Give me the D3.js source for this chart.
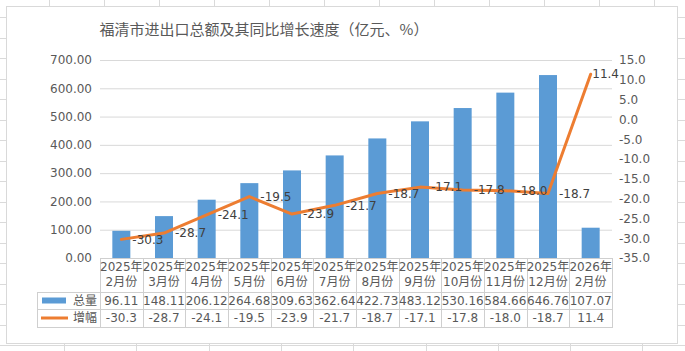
<!DOCTYPE html>
<html>
<head>
	<meta charset='utf-8'>
	<title>福清市进出口总额</title>
	<script src='https://cdn.jsdelivr.net/npm/d3@7'></script>
	<style>
		body { margin: 0; background: #fff; }
		text { font-family: 'DejaVu Sans', 'Noto Sans CJK SC', sans-serif; }
	</style>
</head>
<body>
	<svg width='685' height='351'></svg>
	<script>
		// 数据
		const categories = ['2025年2月份', '2025年3月份', '2025年4月份', '2025年5月份', '2025年6月份', '2025年7月份',
			'2025年8月份', '2025年9月份', '2025年10月份', '2025年11月份', '2025年12月份', '2026年2月份']
		const totals = [96.11, 148.11, 206.12, 264.68, 309.63, 362.64, 422.73, 483.12, 530.16, 584.66, 646.76, 107.07]
		const growth = [-30.3, -28.7, -24.1, -19.5, -23.9, -21.7, -18.7, -17.1, -17.8, -18.0, -18.7, 11.4]
		const leftTicks = [0, 100, 200, 300, 400, 500, 600, 700]
		const rightTicks = [-35, -30, -25, -20, -15, -10, -5, 0, 5, 10, 15]
		const seriesNames = ['总量', '增幅']

		const blue = '#5b9bd5', orange = '#ed7d31', txt = '#595959', gridC = '#d9d9d9', tableC = '#cfcfcf'
		const plot = { left: 100, right: 612, top: 60, bottom: 258 }

		const svg = d3.select('svg')

		// 背景表格线
		const bg = svg.append('g').attr('stroke', '#dadada').attr('stroke-width', 1)
		d3.range(-3.5, 351, 20.5).forEach(y => bg.append('line').attr('x1', 0).attr('x2', 685).attr('y1', Math.round(y) + 0.5).attr('y2', Math.round(y) + 0.5))
		d3.range(49, 685, 55).forEach(x => bg.append('line').attr('x1', x + 0.5).attr('x2', x + 0.5).attr('y1', 0).attr('y2', 10))
		d3.range(64, 685, 72.3).forEach(x => bg.append('line').attr('x1', Math.round(x) + 0.5).attr('x2', Math.round(x) + 0.5).attr('y1', 340).attr('y2', 351))

		// 图表区
		svg.append('rect').attr('x', 6.5).attr('y', 6.5).attr('width', 671).attr('height', 337)
			.attr('fill', '#fff').attr('stroke', gridC)

		// 标题
		svg.append('text').attr('x', 264).attr('y', 35).attr('text-anchor', 'middle')
			.attr('font-size', '15px').attr('fill', txt)
			.style('font-family', "'Noto Sans CJK SC', sans-serif")
			.text('福清市进出口总额及其同比增长速度（亿元、%）')

		const xScale = d3.scaleBand().domain(categories).range([plot.left, plot.right]).padding(0)
		const yLeft = d3.scaleLinear().domain([0, 700]).range([plot.bottom, plot.top])
		const yRight = d3.scaleLinear().domain([-35, 15]).range([plot.bottom, plot.top])

		// 左轴 + 网格线
		const gl = svg.append('g').attr('transform', `translate(${plot.left},0)`)
			.call(d3.axisLeft(yLeft).tickValues(leftTicks).tickSize(-(plot.right - plot.left)).tickPadding(8)
				.tickFormat(d => d.toFixed(2)))
		gl.select('.domain').remove()
		gl.selectAll('.tick line').attr('stroke', gridC)
		gl.selectAll('.tick text').attr('font-size', '12px').attr('fill', txt)

		// 右轴
		const gr = svg.append('g').attr('transform', `translate(${plot.right},0)`)
			.call(d3.axisRight(yRight).tickValues(rightTicks).tickSize(0).tickPadding(7)
				.tickFormat(d => d.toFixed(1)))
		gr.select('.domain').remove()
		gr.selectAll('.tick text').attr('font-size', '12px').attr('fill', txt)

		// 柱
		const barW = 18
		svg.append('g').selectAll('rect').data(totals).join('rect')
			.attr('x', (d, i) => xScale(categories[i]) + (xScale.bandwidth() - barW) / 2)
			.attr('y', d => yLeft(d))
			.attr('width', barW)
			.attr('height', d => plot.bottom - yLeft(d))
			.attr('fill', blue)

		// 折线
		const cx = i => xScale(categories[i]) + xScale.bandwidth() / 2
		const line = d3.line().x((d, i) => cx(i)).y(d => yRight(d))
		svg.append('path').datum(growth).attr('d', line)
			.attr('fill', 'none').attr('stroke', orange).attr('stroke-width', 3)
			.attr('stroke-linejoin', 'round').attr('stroke-linecap', 'round')

		// 数据标签（超出绘图区时往回收）
		svg.append('g').selectAll('text').data(growth).join('text')
			.attr('x', (d, i) => cx(i) + 11)
			.attr('y', d => yRight(d))
			.attr('dy', '0.35em')
			.attr('font-size', '12px').attr('fill', '#404040')
			.text(d => d.toFixed(1))
			.each(function () {
				const w = this.getComputedTextLength()
				const x = +this.getAttribute('x')
				if (x + w > plot.right + 7) this.setAttribute('x', plot.right + 7 - w)
			})

		// 数据表
		const rows = { top: 258, head: 292, r1: 309, r2: 327 }
		const legendLeft = 37
		const tg = svg.append('g')
		const hl = (x1, x2, y) => tg.append('line').attr('x1', x1).attr('x2', x2).attr('y1', y + 0.5).attr('y2', y + 0.5).attr('stroke', tableC)
		const vl = (x, y1, y2) => tg.append('line').attr('x1', x + 0.5).attr('x2', x + 0.5).attr('y1', y1).attr('y2', y2).attr('stroke', tableC)
		hl(plot.left, plot.right, rows.top)
		hl(legendLeft, plot.right, rows.head)
		hl(legendLeft, plot.right, rows.r1)
		hl(legendLeft, plot.right, rows.r2)
		vl(legendLeft, rows.head, rows.r2 + 1)
		categories.forEach(c => vl(Math.round(xScale(c)), rows.top, rows.r2 + 1))
		vl(plot.right, rows.top, rows.r2 + 1)

		const headText = tg.selectAll('text.head').data(categories).join('text')
			.attr('class', 'head')
			.attr('text-anchor', 'middle').attr('font-size', '12px').attr('fill', txt)
		headText.append('tspan').attr('x', (d, i) => cx(i)).attr('y', 271).text(d => d.split('年')[0] + '年')
		headText.append('tspan').attr('x', (d, i) => cx(i)).attr('y', 286).text(d => d.split('年')[1])

		tg.selectAll('text.v1').data(totals).join('text').attr('class', 'v1')
			.attr('x', (d, i) => cx(i)).attr('y', 305).attr('text-anchor', 'middle')
			.attr('font-size', '12px').attr('fill', txt).text(d => d.toFixed(2))
		tg.selectAll('text.v2').data(growth).join('text').attr('class', 'v2')
			.attr('x', (d, i) => cx(i)).attr('y', 322).attr('text-anchor', 'middle')
			.attr('font-size', '12px').attr('fill', txt).text(d => d.toFixed(1))

		// 图例
		tg.append('rect').attr('x', 42).attr('y', 297.5).attr('width', 24).attr('height', 6).attr('fill', blue)
		tg.append('line').attr('x1', 41).attr('x2', 68).attr('y1', 318).attr('y2', 318)
			.attr('stroke', orange).attr('stroke-width', 3)
		tg.selectAll('text.lg').data(seriesNames).join('text').attr('class', 'lg')
			.attr('x', 73).attr('y', (d, i) => i === 0 ? 305 : 322)
			.attr('font-size', '12px').attr('fill', txt).text(d => d)
	</script>
</body>
</html>
